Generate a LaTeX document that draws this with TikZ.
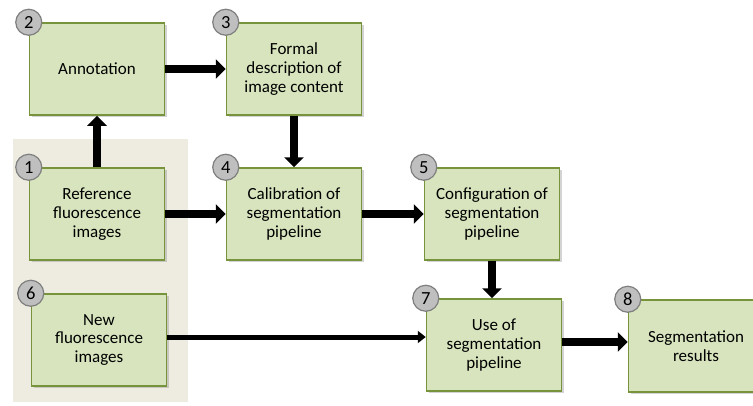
\documentclass[tikz,border=0pt]{standalone}
\usepackage{fontspec}
\setmainfont{Carlito}
\definecolor{BoxFill}{RGB}{215,228,189}
\definecolor{BoxLine}{RGB}{119,147,60}
\definecolor{PanelFill}{RGB}{238,236,225}
\definecolor{NumFill}{RGB}{191,191,191}
\definecolor{NumLine}{RGB}{127,127,127}
\usetikzlibrary{arrows.meta,positioning,shadows}

\begin{document}
\begin{tikzpicture}[x=1pt,y=-1pt,
  box/.style={draw=BoxLine,fill=BoxFill,line width=1.5pt,minimum width=135pt,minimum height=92pt,
    inner sep=2pt,align=center,font=\fontsize{17}{18.8}\selectfont,
    drop shadow={opacity=0.35,shadow xshift=2pt,shadow yshift=-2pt}},
  num/.style={circle,draw=NumLine,fill=NumFill,line width=1.2pt,minimum size=26pt,inner sep=0pt,
    font=\fontsize{18.5}{18.5}\selectfont},
  flow/.style={line width=8pt,-{Triangle[length=10pt,width=19pt]}},
  thinflow/.style={line width=5pt,-{Triangle[length=8pt,width=12pt]}}]
\useasboundingbox (0,0) rectangle (753,405);
% input panel
\fill[PanelFill] (13,139) rectangle (188,402);
% steps
\node[box] (n2) at (97,69) {Annotation};
\node[box] (n3) at (294,69) {Formal\\description of\\image content};
\node[box] (n1) at (97,214) {Reference\\fluorescence\\images};
\node[box] (n4) at (294,214) {Calibration of\\segmentation\\pipeline};
\node[box] (n5) at (492,214) {Configuration of\\segmentation\\pipeline};
\node[box] (n6) at (99,340) {New\\fluorescence\\images};
\node[box] (n7) at (494,345) {Use of\\segmentation\\pipeline};
\node[box] (n8) at (696,346) {Segmentation\\results};
% step numbers
\foreach \i in {1,...,8}
  \node[num] (c\i) at (n\i.north west) {\i};
% flow arrows
\draw[flow] (n1.north) -- (n2.south);
\draw[flow] (n2.east) -- (n3.west);
\draw[flow] (n3.south) -- (n4.north);
\draw[flow] (n1.east) -- (n4.west);
\draw[flow] (n4.east) -- (n5.west);
\draw[flow] (n5.south) -- (n5.south |- n7.north);
\draw[thinflow] (n6.east |- 0,337) -- (n7.west |- 0,337);
\draw[flow] (n7.east |- 0,342) -- (n8.west |- 0,342);
\end{tikzpicture}
\end{document}
